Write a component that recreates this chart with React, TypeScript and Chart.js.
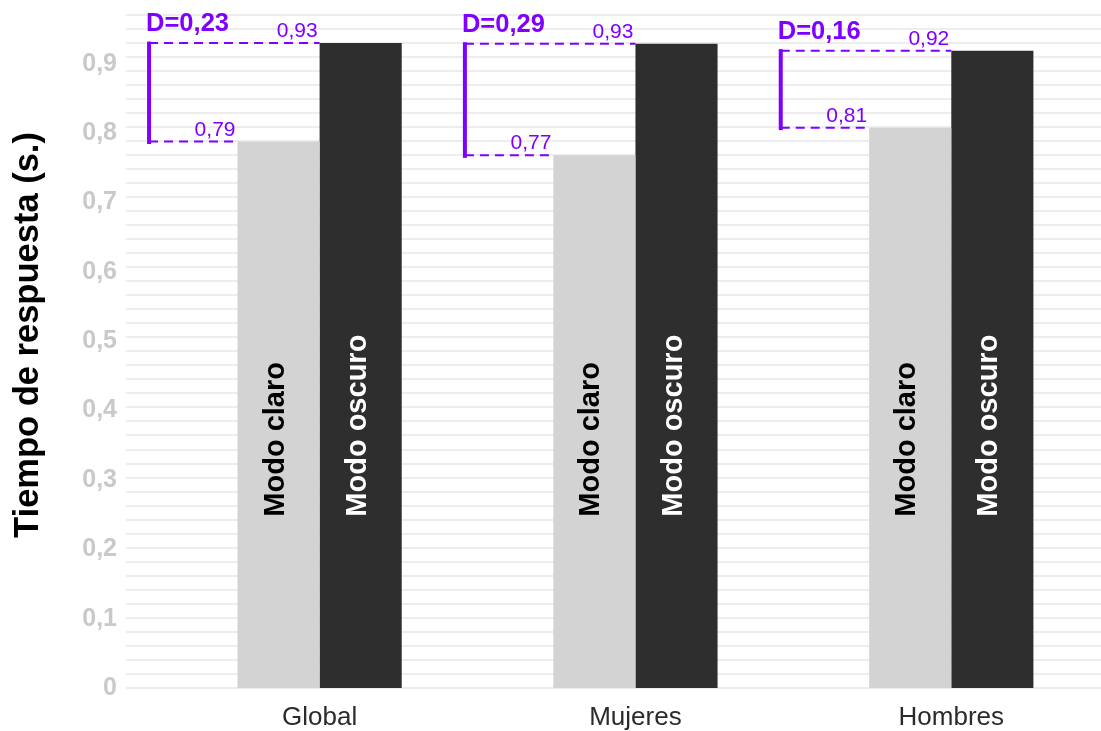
import React, { useEffect, useRef } from "react";
import { Chart, registerables } from "chart.js";

Chart.register(...registerables);

const FONT = '"Liberation Sans", Arial, Helvetica, sans-serif';

// ---- data ----
const categories = ["Global", "Mujeres", "Hombres"];
const seriesNames = ["Modo claro", "Modo oscuro"];
const lightValues = [0.788, 0.768, 0.808];
const darkValues = [0.93, 0.929, 0.919];
const effectSizes = [0.23, 0.29, 0.16];
const yTickValues = [0, 0.1, 0.2, 0.3, 0.4, 0.5, 0.6, 0.7, 0.8, 0.9];
const yTitle = "Tiempo de respuesta (s.)";

// ---- styles ----
const PURPLE = "#7F00FF";
const LIGHT = "#D3D3D3";
const DARK = "#2E2E2E";
const TICK_GRAY = "#C9C9C9";
const GRID = "#EDEDED";
const BRACKET_OFFSET = -0.54; // x offset (in category units) of the difference bracket
const IN_BAR_LABEL_AT = 0.247; // y value where the rotated bar labels start
const TITLE_X = 28;
const TITLE_Y = 335;

const comma = (v: number, d: number) => v.toFixed(d).replace(".", ",");

const annotationPlugin = {
  id: "diffAnnotations",
  afterDatasetsDraw(chart: any) {
    const ctx = chart.ctx as CanvasRenderingContext2D;
    const xs = chart.scales.x;
    const ys = chart.scales.y;
    const m0 = chart.getDatasetMeta(0);
    const m1 = chart.getDatasetMeta(1);
    ctx.save();

    // rotated labels inside bars
    [m0, m1].forEach((meta: any, d: number) => {
      meta.data.forEach((bar: any) => {
        const yA = ys.getPixelForValue(IN_BAR_LABEL_AT);
        ctx.save();
        ctx.translate(bar.x - 3, yA);
        ctx.rotate(-Math.PI / 2);
        ctx.font = `bold 29px ${FONT}`;
        ctx.fillStyle = d === 0 ? "#000000" : "#FFFFFF";
        ctx.textAlign = "left";
        ctx.textBaseline = "middle";
        ctx.fillText(seriesNames[d], 0, 0);
        ctx.restore();
      });
    });

    categories.forEach((_, i) => {
      const lb = m0.data[i];
      const db = m1.data[i];
      const xl = xs.getPixelForValue(i + BRACKET_OFFSET);
      const yTop = ys.getPixelForValue(darkValues[i]);
      const yBot = ys.getPixelForValue(lightValues[i]);
      const lbLeft = lb.x - lb.width / 2;
      const dbLeft = db.x - db.width / 2;

      // dashed guides
      ctx.strokeStyle = PURPLE;
      ctx.lineWidth = 2;
      ctx.setLineDash([9, 6]);
      ctx.beginPath();
      ctx.moveTo(xl, yTop);
      ctx.lineTo(dbLeft, yTop);
      ctx.moveTo(xl, yBot);
      ctx.lineTo(lbLeft, yBot);
      ctx.stroke();

      // solid vertical bracket
      ctx.setLineDash([]);
      ctx.lineWidth = 4;
      ctx.lineCap = "butt";
      ctx.beginPath();
      ctx.moveTo(xl, yTop - 1.5);
      ctx.lineTo(xl, yBot + 2.5);
      ctx.stroke();

      // value labels
      ctx.fillStyle = PURPLE;
      ctx.font = `21px ${FONT}`;
      ctx.textAlign = "right";
      ctx.textBaseline = "alphabetic";
      ctx.fillText(comma(darkValues[i], 2), dbLeft - 2, yTop - 6);
      ctx.fillText(comma(lightValues[i], 2), lbLeft - 2, yBot - 6);

      // effect size label
      ctx.font = `bold 25.5px ${FONT}`;
      ctx.textAlign = "left";
      ctx.fillText("D=" + comma(effectSizes[i], 2), xl - 3, yTop - 12);
    });

    // y-axis title
    ctx.save();
    ctx.translate(TITLE_X, TITLE_Y);
    ctx.rotate(-Math.PI / 2);
    ctx.font = `bold 34.5px ${FONT}`;
    ctx.fillStyle = "#000000";
    ctx.textAlign = "center";
    ctx.textBaseline = "middle";
    ctx.fillText(yTitle, 0, 0);
    ctx.restore();

    ctx.restore();
  },
};

export default function App() {
  const canvasRef = useRef<HTMLCanvasElement | null>(null);

  useEffect(() => {
    if (!canvasRef.current) return;
    const chart = new Chart(canvasRef.current, {
      type: "bar",
      data: {
        datasets: [
          {
            label: seriesNames[0],
            data: categories.map((_, i) => ({ x: i, y: lightValues[i] })),
            backgroundColor: LIGHT,
            borderWidth: 0,
          },
          {
            label: seriesNames[1],
            data: categories.map((_, i) => ({ x: i, y: darkValues[i] })),
            backgroundColor: DARK,
            borderWidth: 0,
          },
        ],
      },
      options: {
        animation: false,
        responsive: true,
        maintainAspectRatio: false,
        layout: { padding: { top: 8, right: 0, bottom: 0, left: 0 } },
        datasets: {
          bar: { categoryPercentage: 0.52, barPercentage: 1.0 },
        },
        plugins: {
          legend: { display: false },
          tooltip: { enabled: false },
          title: { display: false },
        },
        scales: {
          x: {
            type: "linear",
            min: -0.613,
            max: 2.474,
            offset: false,
            grid: { display: false, drawTicks: false, offset: false },
            border: { display: false },
            afterBuildTicks: (scale: any) => {
              scale.ticks = categories.map((_, i) => ({ value: i }));
            },
            afterFit: (scale: any) => {
              scale.height = 43;
              scale.paddingLeft = 0;
              scale.paddingRight = 0;
            },
            ticks: {
              autoSkip: false,
              maxRotation: 0,
              padding: 14,
              color: "#2B2B2B",
              font: { family: FONT, size: 26 },
              callback: (v: any) => categories[Math.round(Number(v))] ?? "",
            },
          },
          y: {
            type: "linear",
            position: "left",
            min: 0,
            max: 0.9805,
            weight: 2,
            grid: { display: false, drawTicks: false },
            border: { display: false },
            afterBuildTicks: (scale: any) => {
              scale.ticks = yTickValues.map((v) => ({ value: v }));
            },
            afterFit: (scale: any) => {
              scale.width = 126;
              scale.paddingTop = 0;
              scale.paddingBottom = 0;
            },
            ticks: {
              padding: 9,
              color: TICK_GRAY,
              font: { family: FONT, size: 25, weight: "bold" },
              callback: (v: any) => (Number(v) === 0 ? "0" : comma(Number(v), 1)),
            },
            title: { display: false, text: yTitle },
          },
          y2: {
            type: "linear",
            position: "left",
            min: 0,
            max: 0.9694,
            weight: 1,
            grid: { display: true, drawTicks: false, color: GRID, lineWidth: 2 },
            border: { display: false },
            ticks: { display: false, stepSize: 0.02, includeBounds: false },
            afterFit: (scale: any) => {
              scale.width = 0;
              scale.paddingTop = 0;
              scale.paddingBottom = 0;
            },
          },
        },
      } as any,
      plugins: [annotationPlugin],
    });
    return () => chart.destroy();
  }, []);

  return (
    <div style={{ position: "absolute", left: 0, top: 0, width: 1101, height: 731, background: "#FFFFFF" }}>
      <canvas ref={canvasRef} />
    </div>
  );
}
